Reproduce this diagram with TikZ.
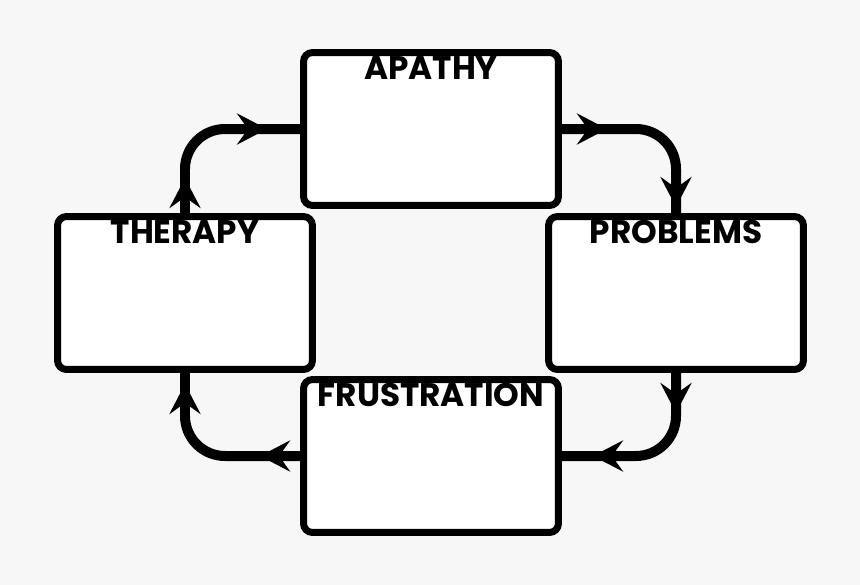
\documentclass[tikz,border=0pt]{standalone}
\usepackage{fontspec}
\usetikzlibrary{arrows.meta, decorations.markings}
\newfontfamily\boxfont{Poppins}
\definecolor{pagegray}{RGB}{247,247,247}

\begin{document}
\begin{tikzpicture}[x=0.02cm, y=-0.02cm,
        box/.style={rectangle, draw, fill=white, rounded corners=0.18cm, line width=0.14cm, minimum width=5.1cm, minimum height=3.06cm},
        lbl/.style={anchor=north, inner sep=0pt, font=\boxfont\bfseries\fontsize{18.6pt}{20pt}\selectfont},
        flow/.style 2 args={line width=0.2cm, rounded corners=0.8cm, postaction={decorate},
            decoration={markings,
                mark=at position #1 with {\arrow{Stealth[length=0.6cm, width=0.62cm, inset=0.22cm]}},
                mark=at position #2 with {\arrow{Stealth[length=0.6cm, width=0.62cm, inset=0.22cm]}}}}
    ]
        \fill[pagegray] (0,0) rectangle (860,585);
        \useasboundingbox (0,0) rectangle (860,585);

        % the four stages
        \node[box] (apathy) at (431,129) {};
        \node[box] (problems) at (676,293) {};
        \node[box] (frustration) at (431,456) {};
        \node[box] (therapy) at (185,293) {};

        \node[lbl] (apathy-t) at ([yshift=-0.14cm]apathy.north) {APATHY};
        \node[lbl] (problems-t) at ([yshift=-0.14cm]problems.north) {PROBLEMS};
        \node[lbl] (frustration-t) at ([yshift=-0.14cm]frustration.north) {FRUSTRATION};
        \node[lbl] (therapy-t) at ([yshift=-0.14cm]therapy.north) {THERAPY};

        % cycle
        \draw[flow={0.7cm}{-0.66cm}] (therapy.north) |- (apathy.west);
        \draw[flow={0.9cm}{-0.12cm}] (apathy.east) -| (problems.north);
        \draw[flow={0.8cm}{-0.62cm}] (problems.south) |- (frustration.east);
        \draw[flow={0.8cm}{-0.22cm}] (frustration.west) -| (therapy.south);
    \end{tikzpicture}
\end{document}
